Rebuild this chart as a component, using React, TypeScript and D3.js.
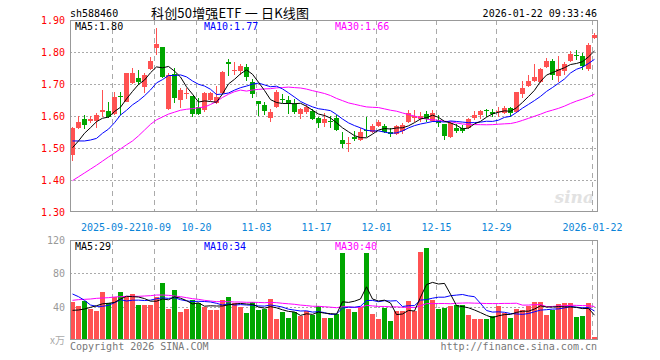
import React from "react";
import * as d3 from "d3";

const dates = [
  "2025-09-11","2025-09-12","2025-09-15","2025-09-16","2025-09-17","2025-09-18","2025-09-19","2025-09-22","2025-09-23","2025-09-24","2025-09-25","2025-09-26","2025-09-29","2025-09-30",
  "2025-10-09","2025-10-10","2025-10-13","2025-10-14","2025-10-15","2025-10-16","2025-10-17","2025-10-20","2025-10-21","2025-10-22","2025-10-23","2025-10-24","2025-10-27","2025-10-28","2025-10-29","2025-10-30","2025-10-31",
  "2025-11-03","2025-11-04","2025-11-05","2025-11-06","2025-11-07","2025-11-10","2025-11-11","2025-11-12","2025-11-13","2025-11-14","2025-11-17","2025-11-18","2025-11-19","2025-11-20","2025-11-21","2025-11-24","2025-11-25","2025-11-26","2025-11-27","2025-11-28",
  "2025-12-01","2025-12-02","2025-12-03","2025-12-04","2025-12-05","2025-12-08","2025-12-09","2025-12-10","2025-12-11","2025-12-12","2025-12-15","2025-12-16","2025-12-17","2025-12-18","2025-12-19","2025-12-22","2025-12-23","2025-12-24","2025-12-25","2025-12-26","2025-12-29","2025-12-30","2025-12-31",
  "2026-01-05","2026-01-06","2026-01-07","2026-01-08","2026-01-09","2026-01-12","2026-01-13","2026-01-14","2026-01-15","2026-01-16","2026-01-19","2026-01-20","2026-01-21","2026-01-22",
];

const opens = [1.478,1.564,1.590,1.583,1.584,1.614,1.616,1.605,1.661,1.645,1.702,1.720,1.692,1.746,1.811,1.815,1.622,1.730,1.650,1.669,1.664,1.629,1.619,1.650,1.640,1.671,1.770,1.743,1.742,1.754,1.707,1.647,1.634,1.593,1.629,1.654,1.650,1.636,1.606,1.611,1.616,1.595,1.577,1.583,1.593,1.525,1.511,1.535,1.525,1.556,1.549,1.570,1.569,1.551,1.543,1.554,1.580,1.593,1.591,1.607,1.585,1.586,1.574,1.535,1.564,1.564,1.564,1.593,1.603,1.620,1.613,1.611,1.608,1.626,1.611,1.668,1.693,1.709,1.707,1.752,1.773,1.726,1.741,1.773,1.792,1.786,1.747,1.843];
const highs = [1.566,1.600,1.603,1.601,1.608,1.681,1.645,1.676,1.676,1.735,1.749,1.744,1.733,1.785,1.876,1.815,1.733,1.749,1.686,1.686,1.664,1.655,1.676,1.674,1.694,1.741,1.777,1.768,1.761,1.761,1.716,1.647,1.645,1.622,1.681,1.668,1.664,1.652,1.626,1.636,1.622,1.598,1.610,1.601,1.603,1.551,1.535,1.553,1.561,1.598,1.574,1.5875,1.574,1.564,1.572,1.577,1.619,1.619,1.611,1.616,1.619,1.603,1.574,1.582,1.574,1.572,1.595,1.616,1.619,1.622,1.622,1.629,1.632,1.629,1.676,1.709,1.728,1.761,1.749,1.780,1.778,1.789,1.768,1.803,1.807,1.796,1.827,1.860];
const lows = [1.459,1.560,1.559,1.579,1.561,1.598,1.593,1.603,1.603,1.643,1.700,1.697,1.671,1.744,1.791,1.718,1.619,1.640,1.624,1.653,1.598,1.602,1.614,1.647,1.636,1.668,1.726,1.728,1.728,1.709,1.657,1.601,1.603,1.582,1.626,1.640,1.605,1.605,1.591,1.605,1.587,1.561,1.567,1.564,1.553,1.501,1.486,1.523,1.522,1.535,1.546,1.567,1.548,1.535,1.541,1.543,1.577,1.582,1.582,1.582,1.582,1.567,1.525,1.532,1.548,1.548,1.559,1.588,1.590,1.598,1.598,1.598,1.605,1.598,1.608,1.657,1.690,1.705,1.704,1.749,1.713,1.705,1.728,1.770,1.775,1.744,1.741,1.841];
const closes = [1.564,1.580,1.572,1.592,1.603,1.618,1.598,1.659,1.659,1.733,1.735,1.707,1.728,1.773,1.824,1.721,1.728,1.655,1.681,1.671,1.606,1.605,1.673,1.671,1.660,1.736,1.761,1.745,1.757,1.721,1.668,1.636,1.617,1.614,1.676,1.652,1.637,1.613,1.621,1.629,1.591,1.577,1.590,1.581,1.556,1.511,1.516,1.528,1.551,1.553,1.569,1.580,1.551,1.544,1.569,1.572,1.610,1.601,1.601,1.590,1.610,1.577,1.538,1.577,1.553,1.553,1.591,1.603,1.616,1.618,1.605,1.616,1.626,1.608,1.674,1.689,1.708,1.723,1.746,1.773,1.728,1.747,1.761,1.795,1.790,1.756,1.822,1.853];
const volumes = [46,40.8,46.8,37.2,34.8,57.6,44,51.6,57.6,51.6,55.2,42,42,42,51.6,68.4,37.2,60,33.6,37.2,48,44.4,39.6,36,36,48,51.6,44.4,39.6,32.4,45.6,36,37.2,49.2,25.2,33.6,26.4,33.6,28.8,34.8,30,40.8,26.4,26.4,31.2,104.4,37.2,33.6,39.6,104.4,31.2,25.2,38.4,22.8,34.8,34.8,46.8,34.8,105.6,110.4,48,37.2,38.4,40.8,42,42,30,25.2,25.2,25.2,28.8,40.8,32.4,26.4,37.2,36,40.8,45.6,45.6,30,36,43.2,44.4,44.4,27.6,28.8,44.4,3.6];

// moving-average values before enough history is visible
const ma5Seed = [1.501,1.522,1.546,1.5635];
const ma10Seed = [1.522,1.522,1.522,1.525,1.530,1.546,1.559,1.579,1.603];
const ma30Seed = [1.398,1.41,1.422,1.434,1.446,1.459,1.472,1.484,1.497,1.51,1.522,1.538,1.556,1.574,1.588,1.597,1.606,1.612,1.618,1.621,1.623,1.626,1.628,1.636,1.645,1.658,1.668,1.676,1.681];
const vma5Seed = [35.6,36,37.2,39.2];
const vma10Seed = [55.2,52,47.6,42,40.4,40.4,41.6,44.8,48.4];
const vma30Seed = [47.6,48.4,48.8,49.2,50,50.4,50.8,51.6,52,52.4,52.4,52.4,52.8,53.2,54,54,53.6,52.8,52,50.8,49.6,48.8,47.6,46.8,46,46,46,45.6,45.6];

const tickDates = ["2025-09-22","2025-10-09","2025-10-20","2025-11-03","2025-11-17","2025-12-01","2025-12-15","2025-12-29","2026-01-22"];
const tickLabels = ["2025-09-22","10-09","10-20","11-03","11-17","12-01","12-15","12-29","2026-01-22"];
const priceTicks = [1.9,1.8,1.7,1.6,1.5,1.4,1.3];
const volTicks = [120,80,40];

const UP = "#ff5252";
const DOWN = "#00a600";
const GRID = "#aaaaaa";
const FRAME = "#999999";
const MONO = "'DejaVu Sans Mono', 'Liberation Mono', monospace";

function movingAvg(vals: number[], n: number, seed: number[]) {
  return vals.map((_, i) => (i < n - 1 ? seed[i] : (d3.mean(vals.slice(i - n + 1, i + 1)) as number)));
}
const trunc = (v: number, d: number) => Math.floor(v * Math.pow(10, d)) / Math.pow(10, d);

export default function App() {
  const n = dates.length;
  const left = 70, right = 597;
  const x = d3.scaleLinear().domain([-0.5, n - 0.5]).range([69.5, 69.5 + 6 * n]);
  const y = d3.scaleLinear().domain([1.3, 1.9]).range([212, 20]);
  const yv = d3.scaleLinear().domain([0, 120]).range([340, 240]);

  const ma5 = movingAvg(closes, 5, ma5Seed);
  const ma10 = movingAvg(closes, 10, ma10Seed);
  const ma30 = movingAvg(closes, 30, ma30Seed);
  const vma5 = movingAvg(volumes, 5, vma5Seed);
  const vma10 = movingAvg(volumes, 10, vma10Seed);
  const vma30 = movingAvg(volumes, 30, vma30Seed);

  const pline = d3.line<number>().x((_, i) => x(i)).y((d) => y(d));
  const vline = d3.line<number>().x((_, i) => x(i)).y((d) => yv(d));
  const up = (i: number) => closes[i] >= opens[i];

  const tickIdx = tickDates.map((d) => dates.indexOf(d));

  return (
    <svg width={660} height={360} style={{ position: "absolute", left: 0, top: 0, background: "#fff" }}>
      {/* header */}
      <text x={70} y={17} fontFamily={MONO} fontSize={10} fill="#000">sh588460</text>
      <text x={151} y={18} fontFamily="'Noto Sans CJK SC', sans-serif" fontSize={13} fill="#000" textLength={158} lengthAdjust="spacing">科创50增强ETF 一 日K线图</text>
      <text x={597} y={17} fontFamily={MONO} fontSize={10} fill="#000" textAnchor="end">2026-01-22 09:33:46</text>

      {/* watermark */}
      <text x={594} y={203} fontFamily="'DejaVu Serif', serif" fontStyle="italic" fontWeight="bold" fontSize={17} fill="#e2e2e2" textAnchor="end">sina</text>

      {/* grids */}
      {priceTicks.slice(1, -1).map((t) => (
        <line key={"hp" + t} x1={left} x2={right} y1={Math.round(y(t)) + 0.5} y2={Math.round(y(t)) + 0.5} stroke={GRID} strokeDasharray="2,2" />
      ))}
      {volTicks.slice(1).map((t) => (
        <line key={"hv" + t} x1={left} x2={right} y1={Math.round(yv(t)) + 0.5} y2={Math.round(yv(t)) + 0.5} stroke={GRID} strokeDasharray="2,2" />
      ))}
      {tickIdx.map((i, k) => (
        <g key={"vg" + k}>
          <line x1={x(i) - 2} x2={x(i) - 2} y1={20} y2={212} stroke={GRID} strokeDasharray="5,4" />
          <line x1={x(i) - 2} x2={x(i) - 2} y1={240} y2={340} stroke={GRID} strokeDasharray="5,4" />
        </g>
      ))}

      {/* price y labels */}
      {priceTicks.map((t) => (
        <text key={"pl" + t} x={65} y={y(t) + 4} fontFamily={MONO} fontSize={10} fill="#ff0000" textAnchor="end">{t.toFixed(2)}</text>
      ))}
      {/* x labels */}
      {tickIdx.map((i, k) => (
        <text key={"xl" + k} x={x(i) - 2 + (k === 0 ? -1.5 : k === 1 ? 1.5 : 0)} y={231} fontFamily={MONO} fontSize={10} fill="#0a84d8" textAnchor="middle">{tickLabels[k]}</text>
      ))}
      {/* volume y labels */}
      {volTicks.map((t) => (
        <text key={"vl" + t} x={65} y={yv(t) + 4} fontFamily={MONO} fontSize={10} fill="#999" textAnchor="end">{t}</text>
      ))}
      <text x={65} y={344} fontFamily="'Noto Sans CJK SC', sans-serif" fontSize={10} fill="#aaa" textAnchor="end">x万</text>

      {/* candles */}
      {closes.map((c, i) => {
        const col = up(i) ? UP : DOWN;
        const top = Math.round(y(Math.max(opens[i], c)));
        const bot = Math.round(y(Math.min(opens[i], c)));
        const cx = x(i);
        return (
          <g key={"c" + i} shapeRendering="crispEdges">
            <rect x={cx - 0.5} width={1} y={Math.round(y(highs[i]))} height={Math.max(1, Math.round(y(lows[i])) - Math.round(y(highs[i])))} fill={col} />
            <rect x={cx - 2.5} width={5} y={top} height={Math.max(1, bot - top)} fill={col} />
          </g>
        );
      })}
      {/* volume bars */}
      {volumes.map((v, i) => (
        <rect key={"v" + i} x={x(i) - 2.5} width={5} y={Math.round(yv(v))} height={340 - Math.round(yv(v))} fill={up(i) ? UP : DOWN} shapeRendering="crispEdges" />
      ))}

      {/* MA lines */}
      <path d={pline(ma30) as string} fill="none" stroke="#ff00ff" strokeWidth={1} />
      <path d={pline(ma10) as string} fill="none" stroke="#0000ff" strokeWidth={1} />
      <path d={pline(ma5) as string} fill="none" stroke="#000000" strokeWidth={1} />
      <path d={vline(vma30) as string} fill="none" stroke="#ff00ff" strokeWidth={1} />
      <path d={vline(vma10) as string} fill="none" stroke="#0000ff" strokeWidth={1} />
      <path d={vline(vma5) as string} fill="none" stroke="#000000" strokeWidth={1} />

      {/* frames */}
      <rect x={70.5} y={20.5} width={527} height={191} fill="none" stroke={FRAME} shapeRendering="crispEdges" />
      <rect x={70.5} y={240.5} width={527} height={99} fill="none" stroke={FRAME} shapeRendering="crispEdges" />

      {/* MA legends */}
      <text x={75} y={30} fontFamily={MONO} fontSize={10} fill="#000">{"MA5:" + trunc(ma5[n - 1], 2).toFixed(2)}</text>
      <text x={204} y={30} fontFamily={MONO} fontSize={10} fill="#0000ff">{"MA10:" + trunc(ma10[n - 1], 2).toFixed(2)}</text>
      <text x={335} y={30} fontFamily={MONO} fontSize={10} fill="#ff00ff">{"MA30:" + trunc(ma30[n - 1], 2).toFixed(2)}</text>
      <text x={75} y={250} fontFamily={MONO} fontSize={10} fill="#000">{"MA5:" + Math.floor(vma5[n - 1])}</text>
      <text x={204} y={250} fontFamily={MONO} fontSize={10} fill="#0000ff">{"MA10:" + Math.floor(vma10[n - 1])}</text>
      <text x={335} y={250} fontFamily={MONO} fontSize={10} fill="#ff00ff">{"MA30:" + Math.floor(vma30[n - 1])}</text>

      {/* footer */}
      <text x={70} y={350} fontFamily={MONO} fontSize={10} fill="#777">Copyright 2026 SINA.COM</text>
      <text x={597} y={350} fontFamily={MONO} fontSize={10} fill="#777" textAnchor="end">http://finance.sina.com.cn</text>
    </svg>
  );
}
